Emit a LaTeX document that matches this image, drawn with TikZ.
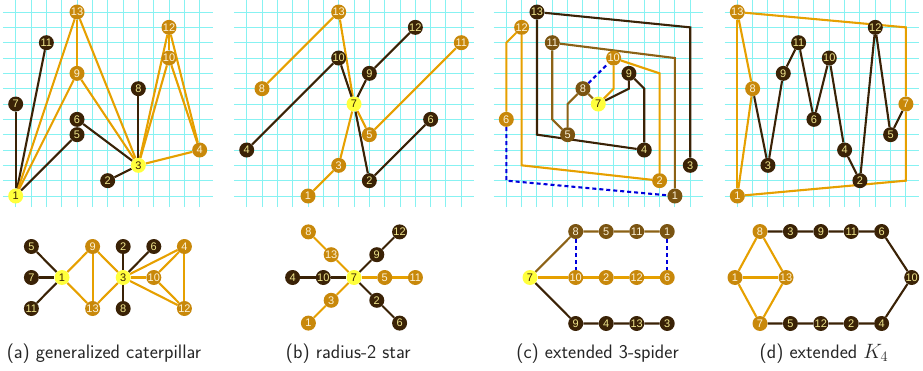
\documentclass[tikz,border=0pt]{standalone}
\usepackage{fontspec}
\newfontfamily\nodefont{Liberation Sans}
\definecolor{dk}{RGB}{58,34,6}
\definecolor{eor}{RGB}{230,160,0}
\definecolor{nor}{RGB}{200,136,10}
\definecolor{nmed}{RGB}{122,84,18}
\definecolor{emed}{RGB}{140,98,22}
\definecolor{yl}{RGB}{255,255,60}
\definecolor{tdk}{RGB}{240,230,140}
\definecolor{tor}{RGB}{252,242,215}
\definecolor{blu}{RGB}{0,0,220}
\definecolor{gridc}{RGB}{135,242,242}
\pgfdeclarelayer{gridlayer}
\pgfdeclarelayer{edgelayer}
\pgfsetlayers{gridlayer,edgelayer,main}
\tikzset{
  vtx/.style={circle, inner sep=0pt, minimum size=15pt, font=\nodefont\fontsize{11}{11}\selectfont},
  vd/.style={vtx, fill=dk, text=tdk},
  vo/.style={vtx, fill=nor, text=tor},
  vm/.style={vtx, fill=nmed, text=tor},
  vy/.style={vtx, fill=yl, text=dk},
  ed/.style={draw=dk, line width=2.1pt},
  eo/.style={draw=eor, line width=2.1pt},
  em/.style={draw=emed, line width=2.1pt},
  eb/.style={draw=blu, line width=2.1pt, dash pattern=on 4pt off 3pt},
  gl/.style={draw=gridc, line width=1pt},
  captxt/.style={anchor=base, font=\sffamily\fontsize{19.5}{22}\selectfont, text=black!85},
}
\newcommand{\gridpanel}[1]{%
  \begin{pgfonlayer}{gridlayer}
  \foreach \r in {1,...,13} \draw[gl] (0.17,\r) -- (#1+0.85,\r);
  \foreach \c in {1,...,#1} \draw[gl] (\c,0.28) -- (\c,13.8);
  \end{pgfonlayer}}
\begin{document}
\begin{tikzpicture}[x=1pt,y=1pt]
\useasboundingbox (0,0) rectangle (923,370);
% ---------- panel (a) top ----------
\begin{scope}[shift={(0.37pt,158.67pt)}, x=15.33pt, y=15.33pt]
  \gridpanel{13}
  \node[vy] (a1) at (1,1) {1};
  \node[vd] (a7) at (1,7) {7};
  \node[vd] (a11) at (3,11) {11};
  \node[vo] (a13) at (5,13) {13};
  \node[vo] (a9) at (5,9) {9};
  \node[vd] (a6) at (5,6) {6};
  \node[vd] (a5) at (5,5) {5};
  \node[vd] (a2) at (7,2) {2};
  \node[vy] (a3) at (9,3) {3};
  \node[vd] (a8) at (9,8) {8};
  \node[vo] (a12) at (11,12) {12};
  \node[vo] (a10) at (11,10) {10};
  \node[vo] (a4) at (13,4) {4};
  \begin{pgfonlayer}{edgelayer}
    \draw[ed] (a1) -- (a7);
    \draw[ed] (a1) -- (a11);
    \draw[ed] (a1) -- (a5);
    \draw[ed] (a6) -- (a3);
    \draw[ed] (a2) -- (a3);
    \draw[ed] (a8) -- (a3);
    \draw[eo] (a1) -- (a13);
    \draw[eo] (a1) -- (a9);
    \draw[eo] (a13) -- (a9);
    \draw[eo] (a9) -- (a3);
    \draw[eo] (a13) -- (a3);
    \draw[eo] (a3) -- (a12);
    \draw[eo] (a3) -- (a10);
    \draw[eo] (a12) -- (a10);
    \draw[eo] (a12) -- (a4);
    \draw[eo] (a10) -- (a4);
    \draw[eo] (a3) -- (a4);
  \end{pgfonlayer}
\end{scope}
% ---------- panel (b) top ----------
\begin{scope}[shift={(231.37pt,158.67pt)}, x=15.33pt, y=15.33pt]
  \gridpanel{15}
  \node[vd] (b4) at (1,4) {4};
  \node[vo] (b8) at (2,8) {8};
  \node[vo] (b1) at (5,1) {1};
  \node[vo] (b13) at (7,13) {13};
  \node[vd] (b10) at (7,10) {10};
  \node[vo] (b3) at (7,3) {3};
  \node[vy] (b7) at (8,7) {7};
  \node[vd] (b9) at (9,9) {9};
  \node[vo] (b5) at (9,5) {5};
  \node[vd] (b2) at (9,2) {2};
  \node[vd] (b12) at (12,12) {12};
  \node[vd] (b6) at (13,6) {6};
  \node[vo] (b11) at (15,11) {11};
  \begin{pgfonlayer}{edgelayer}
    \draw[eo] (b8) -- (b13);
    \draw[eo] (b13) -- (b7);
    \draw[eo] (b7) -- (b5);
    \draw[eo] (b5) -- (b11);
    \draw[eo] (b7) -- (b3);
    \draw[eo] (b3) -- (b1);
    \draw[ed] (b4) -- (b10);
    \draw[ed] (b10) -- (b7);
    \draw[ed] (b7) -- (b9);
    \draw[ed] (b9) -- (b12);
    \draw[ed] (b7) -- (b2);
    \draw[ed] (b2) -- (b6);
  \end{pgfonlayer}
\end{scope}
% ---------- panel (c) top ----------
\begin{scope}[shift={(490.97pt,158.67pt)}, x=15.33pt, y=15.33pt]
  \gridpanel{13}
  \node[vo] (c6) at (1,6) {6};
  \node[vo] (c12) at (2,12) {12};
  \node[vd] (c13) at (3,13) {13};
  \node[vm] (c11) at (4,11) {11};
  \node[vm] (c5) at (5,5) {5};
  \node[vm] (c8) at (6,8) {8};
  \node[vy] (c7) at (7,7) {7};
  \node[vo] (c10) at (8,10) {10};
  \node[vd] (c9) at (9,9) {9};
  \node[vd] (c4) at (10,4) {4};
  \node[vo] (c2) at (11,2) {2};
  \node[vm] (c1) at (12,1) {1};
  \node[vd] (c3) at (13,3) {3};
  \begin{pgfonlayer}{edgelayer}
    \draw[ed] (c7) -- (9,8) -- (c9);
    \draw[ed] (c9) -- (10,8) -- (c4);
    \draw[ed] (c4) -- (3,5) -- (c13);
    \draw[ed] (c13) -- (13,12) -- (c3);
    \draw[em] (c7) -- (c8);
    \draw[em] (c8) -- (5,7) -- (c5);
    \draw[em] (c5) -- (4,6) -- (c11);
    \draw[em] (c11) -- (12,10) -- (c1);
    \draw[eo] (c7) -- (8,8) -- (c10);
    \draw[eo] (c10) -- (11,9) -- (c2);
    \draw[eo] (c2) -- (2,3) -- (c12);
    \draw[eo] (c12) -- (1,11) -- (c6);
    \draw[eb] (c8) -- (c10);
    \draw[eb] (c6) -- (1,2) -- (c1);
  \end{pgfonlayer}
\end{scope}
% ---------- panel (d) top ----------
\begin{scope}[shift={(721.97pt,158.67pt)}, x=15.33pt, y=15.33pt]
  \gridpanel{12}
  \node[vo] (d13) at (1,13) {13};
  \node[vo] (d1) at (1,1) {1};
  \node[vo] (d8) at (2,8) {8};
  \node[vd] (d3) at (3,3) {3};
  \node[vd] (d9) at (4,9) {9};
  \node[vd] (d11) at (5,11) {11};
  \node[vd] (d6) at (6,6) {6};
  \node[vd] (d10) at (7,10) {10};
  \node[vd] (d4) at (8,4) {4};
  \node[vd] (d2) at (9,2) {2};
  \node[vd] (d12) at (10,12) {12};
  \node[vd] (d5) at (11,5) {5};
  \node[vo] (d7) at (12,7) {7};
  \begin{pgfonlayer}{edgelayer}
    \draw[eo] (d13) -- (d1);
    \draw[eo] (d13) -- (d8);
    \draw[eo] (d8) -- (d1);
    \draw[eo] (d13) -- (12,12) -- (d7);
    \draw[eo] (d1) -- (12,2) -- (d7);
    \draw[ed] (d8) -- (d3) -- (d9) -- (d11) -- (d6) -- (d10) -- (d4) -- (d2) -- (d12) -- (d5) -- (d7);
  \end{pgfonlayer}
\end{scope}
% ---------- bottom (a) ----------
\node[vd] (A5) at (31.4,123.5) {5};
\node[vd] (A7) at (31.4,92.5) {7};
\node[vd] (A11) at (31.4,61.5) {11};
\node[vy] (A1) at (62,92.5) {1};
\node[vo] (A9) at (92.6,123.5) {9};
\node[vo] (A13) at (92.6,61.5) {13};
\node[vd] (A2) at (123.2,123.5) {2};
\node[vy] (A3) at (123.2,92.5) {3};
\node[vd] (A8) at (123.2,61.5) {8};
\node[vd] (A6) at (153.8,123.5) {6};
\node[vo] (A10) at (153.8,92.5) {10};
\node[vo] (A4) at (184.4,123.5) {4};
\node[vo] (A12) at (184.4,61.5) {12};
\begin{pgfonlayer}{edgelayer}
  \draw[ed] (A5) -- (A1);
  \draw[ed] (A7) -- (A1);
  \draw[ed] (A11) -- (A1);
  \draw[eo] (A1) -- (A9);
  \draw[eo] (A1) -- (A13);
  \draw[eo] (A9) -- (A13);
  \draw[eo] (A9) -- (A3);
  \draw[eo] (A13) -- (A3);
  \draw[ed] (A2) -- (A3);
  \draw[ed] (A8) -- (A3);
  \draw[ed] (A6) -- (A3);
  \draw[eo] (A3) -- (A10);
  \draw[eo] (A3) -- (A4);
  \draw[eo] (A3) -- (A12);
  \draw[eo] (A10) -- (A4);
  \draw[eo] (A10) -- (A12);
  \draw[eo] (A4) -- (A12);
\end{pgfonlayer}
% ---------- bottom (b) ----------
\node[vy] (B7) at (354,92.5) {7};
\node[vd] (B10) at (323.3,92.5) {10};
\node[vd] (B4) at (292.6,92.5) {4};
\node[vo] (B5) at (384.7,92.5) {5};
\node[vo] (B11) at (415.4,92.5) {11};
\node[vo] (B13) at (331.2,115.3) {13};
\node[vo] (B8) at (308.4,138.1) {8};
\node[vd] (B9) at (376.8,115.3) {9};
\node[vd] (B12) at (399.6,138.1) {12};
\node[vo] (B3) at (331.2,69.7) {3};
\node[vo] (B1) at (308.4,46.9) {1};
\node[vd] (B2) at (376.8,69.7) {2};
\node[vd] (B6) at (399.6,46.9) {6};
\begin{pgfonlayer}{edgelayer}
  \draw[eo] (B8) -- (B13) -- (B7);
  \draw[ed] (B4) -- (B10) -- (B7);
  \draw[ed] (B7) -- (B9) -- (B12);
  \draw[eo] (B7) -- (B5) -- (B11);
  \draw[eo] (B7) -- (B3) -- (B1);
  \draw[ed] (B7) -- (B2) -- (B6);
\end{pgfonlayer}
% ---------- bottom (c) ----------
\node[vy] (C7) at (530,92.5) {7};
\node[vm] (C8) at (575.7,138.5) {8};
\node[vm] (C5) at (606.2,138.5) {5};
\node[vm] (C11) at (636.7,138.5) {11};
\node[vm] (C1) at (667.2,138.5) {1};
\node[vo] (C10) at (575.7,92.5) {10};
\node[vo] (C2) at (606.2,92.5) {2};
\node[vo] (C12) at (636.7,92.5) {12};
\node[vo] (C6) at (667.2,92.5) {6};
\node[vd] (C9) at (575.7,46.5) {9};
\node[vd] (C4) at (606.2,46.5) {4};
\node[vd] (C13) at (636.7,46.5) {13};
\node[vd] (C3) at (667.2,46.5) {3};
\begin{pgfonlayer}{edgelayer}
  \draw[em] (C7) -- (C8) -- (C5) -- (C11) -- (C1);
  \draw[eo] (C7) -- (C10) -- (C2) -- (C12) -- (C6);
  \draw[ed] (C7) -- (C9) -- (C4) -- (C13) -- (C3);
  \draw[eb] (C8) -- (C10);
  \draw[eb] (C1) -- (C6);
\end{pgfonlayer}
% ---------- bottom (d) ----------
\node[vo] (D8) at (760,138.5) {8};
\node[vd] (D3) at (790.4,138.5) {3};
\node[vd] (D9) at (820.8,138.5) {9};
\node[vd] (D11) at (851.2,138.5) {11};
\node[vd] (D6) at (881.6,138.5) {6};
\node[vd] (D10) at (911.7,92.5) {10};
\node[vo] (D1) at (735,92.5) {1};
\node[vo] (D13) at (786,92.5) {13};
\node[vo] (D7) at (760,46.5) {7};
\node[vd] (D5) at (790.4,46.5) {5};
\node[vd] (D12) at (820.8,46.5) {12};
\node[vd] (D2) at (851.2,46.5) {2};
\node[vd] (D4) at (881.6,46.5) {4};
\begin{pgfonlayer}{edgelayer}
  \draw[eo] (D8) -- (D1);
  \draw[eo] (D8) -- (D13);
  \draw[eo] (D1) -- (D13);
  \draw[eo] (D1) -- (D7);
  \draw[eo] (D13) -- (D7);
  \draw[ed] (D8) -- (D3) -- (D9) -- (D11) -- (D6) -- (D10) -- (D4) -- (D2) -- (D12) -- (D5) -- (D7);
\end{pgfonlayer}
% ---------- captions ----------
\node[captxt] (capa) at (104,12) {(a) generalized caterpillar};
\node[captxt] (capb) at (348.3,12) {(b) radius-2 star};
\node[captxt] (capc) at (597.6,12) {(c) extended 3-spider};
\node[captxt] (capd) at (824,12) {(d) extended $K_4$};
\end{tikzpicture}
\end{document}
